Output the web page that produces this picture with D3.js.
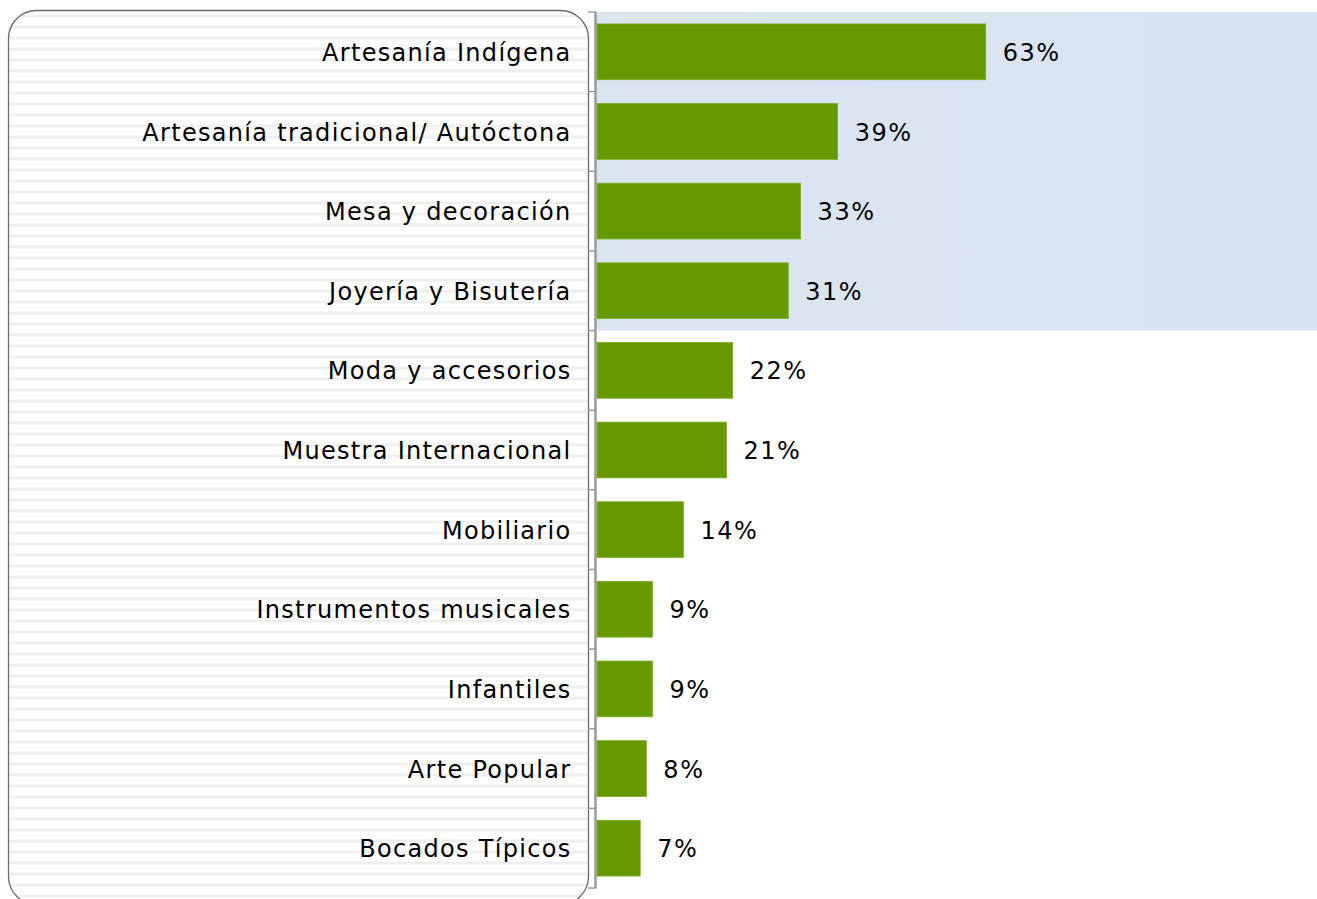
<!DOCTYPE html>
<html>
<head>
<meta charset="utf-8">
<script src="https://cdn.jsdelivr.net/npm/d3@7"></script>
<style>
body { margin: 0; background: #fff; }
</style>
</head>
<body>
<script>
// datos
const categorias = ["Artesanía Indígena", "Artesanía tradicional/ Autóctona", "Mesa y decoración",
  "Joyería y Bisutería", "Moda y accesorios", "Muestra Internacional", "Mobiliario",
  "Instrumentos musicales", "Infantiles", "Arte Popular", "Bocados Típicos"];
const valores = [63, 39, 33, 31, 22, 21, 14, 9, 9, 8, 7];
const destacados = 4; // primeras categorías con fondo azul

const W = 1317, H = 899;
const svg = d3.select("body").append("svg")
  .attr("width", W).attr("height", H)
  .style("font-family", "'DejaVu Sans', Verdana, sans-serif");

const defs = svg.append("defs");
const pat = defs.append("pattern")
  .attr("id", "rayas").attr("patternUnits", "userSpaceOnUse")
  .attr("width", 10).attr("height", 11);
pat.append("rect").attr("width", 10).attr("height", 11).attr("fill", "#fff");
pat.append("rect").attr("y", 3).attr("width", 10).attr("height", 1).attr("fill", "#f7f7f7");
pat.append("rect").attr("y", 4).attr("width", 10).attr("height", 2).attr("fill", "#efefef");
pat.append("rect").attr("y", 6).attr("width", 10).attr("height", 1).attr("fill", "#f7f7f7");

const grad = defs.append("linearGradient").attr("id", "azul")
  .attr("x1", 0).attr("x2", 1).attr("y1", 0).attr("y2", 0);
grad.append("stop").attr("offset", 0).attr("stop-color", "#dbe5f2");
grad.append("stop").attr("offset", 1).attr("stop-color", "#d9e4f2");

const x = d3.scaleLinear().domain([0, 100]).range([597, 1214]);
const y = d3.scaleBand().domain(categorias).range([12, 888]).paddingInner(0.3).paddingOuter(0.15);
const yb = d3.scaleBand().domain(categorias).range([12, 888]);

// panel izquierdo
svg.append("rect")
  .attr("x", 8.5).attr("y", 10.5).attr("width", 580).attr("height", 894)
  .attr("rx", 28).attr("ry", 28)
  .attr("fill", "url(#rayas)").attr("stroke", "#6b6b6b").attr("stroke-width", 1.3);

// fondo azul
svg.append("rect")
  .attr("x", 596).attr("y", yb(categorias[0]))
  .attr("width", W - 596)
  .attr("height", yb(categorias[destacados]) - yb(categorias[0]))
  .attr("fill", "url(#azul)");

// eje
svg.append("line")
  .attr("x1", 595.5).attr("x2", 595.5).attr("y1", 12).attr("y2", 888)
  .attr("stroke", "#9a9a9a").attr("stroke-width", 2.5);
svg.selectAll(".tick")
  .data(d3.range(categorias.length + 1))
  .enter().append("line")
  .attr("x1", 588).attr("x2", 596)
  .attr("y1", i => i < categorias.length ? yb(categorias[i]) : 888)
  .attr("y2", i => i < categorias.length ? yb(categorias[i]) : 888)
  .attr("stroke", "#9a9a9a").attr("stroke-width", 1.5);

// barras
svg.selectAll(".barra")
  .data(valores)
  .enter().append("rect")
  .attr("class", "barra")
  .attr("x", x(0))
  .attr("y", (d, i) => y(categorias[i]))
  .attr("width", d => x(d) - x(0))
  .attr("height", y.bandwidth())
  .attr("fill", "#669900")
  .attr("stroke", "#7aad22").attr("stroke-width", 0.8);

// etiquetas de valor
svg.selectAll(".valor")
  .data(valores)
  .enter().append("text")
  .attr("x", d => x(d) + 17)
  .attr("y", (d, i) => yb(categorias[i]) + yb.bandwidth() / 2)
  .attr("dy", "0.38em")
  .attr("font-size", 24)
  .attr("letter-spacing", 1.5)
  .attr("fill", "#000")
  .text(d => d + "%");

// categorías
svg.selectAll(".cat")
  .data(categorias)
  .enter().append("text")
  .attr("x", 571.5)
  .attr("y", d => yb(d) + yb.bandwidth() / 2)
  .attr("dy", "0.38em")
  .attr("text-anchor", "end")
  .attr("font-size", 24)
  .attr("letter-spacing", 1.3)
  .attr("fill", "#000")
  .text(d => d);
</script>
</body>
</html>
